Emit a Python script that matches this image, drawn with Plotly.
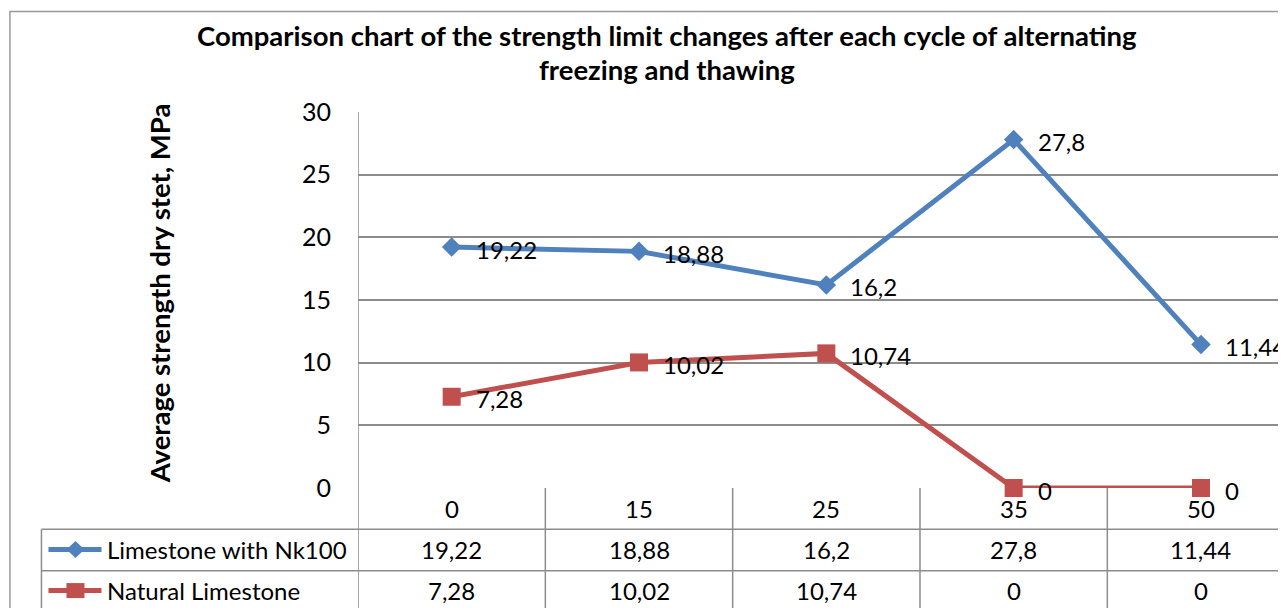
import plotly.graph_objects as go

# ---------------- data ----------------
cycles = ["0", "15", "25", "35", "50"]
series_names = ["Limestone with Nk100", "Natural Limestone"]
nk100 = [19.22, 18.88, 16.2, 27.8, 11.44]
natural = [7.28, 10.02, 10.74, 0, 0]
y_ticks = [0, 5, 10, 15, 20, 25, 30]
title_lines = ["Comparison chart of the strength limit changes after each cycle of alternating",
               "freezing and thawing"]
y_title = "Average strength dry stet, MPa"

# ---------------- geometry / style ----------------
OFF = 8                                   # page body margin
W, H = 1286 - OFF, 608 - OFF
PL, PR, PT, PB = 358.4, 1286, 112.3, 488.0   # plot area in page pixels
STEP = 187.25                                 # category spacing in pixels
FONT = "Lato"
BLUE, RED = "#4F81BD", "#C0504D"
GRID = "#8c8c8c"

def px(xp):   # page pixel x -> paper x
    return (xp - PL) / (PR - PL)

def py(yp):   # page pixel y -> paper y
    return (PB - yp) / (PB - PT)

def fmt(v):
    return f"{v:g}".replace(".", ",")

xs = list(range(len(cycles)))
x_max = (PR - PL) / STEP - 0.5

fig = go.Figure()
for vals, name, col, sym, size in [(nk100, series_names[0], BLUE, "diamond", 15),
                                    (natural, series_names[1], RED, "square", 18)]:
    fig.add_trace(go.Scatter(
        x=xs, y=vals, name=name, mode="lines+markers",
        line=dict(color=col, width=5),
        marker=dict(symbol=sym, size=size, color=col, line=dict(width=0)),
        cliponaxis=False, showlegend=False, hoverinfo="skip"))

TSIZE = 24
tfont = dict(family=FONT, size=TSIZE, color="black")
annotations = []
# data labels
for vals in (nk100, natural):
    for i, v in enumerate(vals):
        annotations.append(dict(x=i, y=v, xref="x", yref="y", text=fmt(v), showarrow=False,
                                font=tfont, xanchor="left", yanchor="middle",
                                xshift=22, yshift=-2))

shapes = []
line_style = dict(color=GRID, width=1.5)
# outer chart border
shapes.append(dict(type="rect", xref="paper", yref="paper", x0=px(10.5), x1=px(1400),
                   y0=py(700), y1=py(12), line=dict(color="#9a9a9a", width=1.5)))
# table horizontal lines
row_lines = [529.3, 570.6]
for yl in row_lines:
    shapes.append(dict(type="line", xref="paper", yref="paper", x0=px(42), x1=1.01,
                       y0=py(yl), y1=py(yl), line=line_style))
# legend cell left border
shapes.append(dict(type="line", xref="paper", yref="paper", x0=px(42), x1=px(42),
                   y0=py(row_lines[0]), y1=py(640), line=line_style))
# table vertical lines (category boundaries)
for i in range(len(cycles)):
    xb = i - 0.5
    shapes.append(dict(type="line", xref="x", yref="paper", x0=xb, x1=xb,
                       y0=py(640), y1=(0 if i > 0 else 1), line=line_style))
shapes.append(dict(type="line", xref="x", yref="paper", x0=len(cycles) - 0.5, x1=len(cycles) - 0.5,
                   y0=py(640), y1=0, line=line_style))

# legend keys inside the table
row_centers = [549.5, 590.5]
for rc, col, kind in [(row_centers[0], BLUE, "diamond"), (row_centers[1], RED, "square")]:
    shapes.append(dict(type="line", xref="paper", yref="paper", x0=px(49), x1=px(102),
                       y0=py(rc), y1=py(rc), line=dict(color=col, width=5)))
    if kind == "diamond":
        shapes.append(dict(type="path", xref="paper", yref="paper", xsizemode="pixel",
                           ysizemode="pixel", xanchor=px(76), yanchor=py(rc),
                           path="M -9 0 L 0 8.5 L 9 0 L 0 -8.5 Z",
                           fillcolor=col, line=dict(width=0)))
    else:
        shapes.append(dict(type="rect", xref="paper", yref="paper", xsizemode="pixel",
                           ysizemode="pixel", xanchor=px(76), yanchor=py(rc),
                           x0=-9, x1=9, y0=-7.5, y1=7.5, fillcolor=col, line=dict(width=0)))

# category row
for i, c in enumerate(cycles):
    annotations.append(dict(x=i, y=py(508), xref="x", yref="paper", text=c, showarrow=False,
                            font=tfont, xanchor="center", yanchor="middle"))
# value rows
for rc, vals, name in [(row_centers[0], nk100, series_names[0]),
                       (row_centers[1], natural, series_names[1])]:
    for i, v in enumerate(vals):
        annotations.append(dict(x=i, y=py(rc), xref="x", yref="paper", text=fmt(v),
                                showarrow=False, font=tfont, xanchor="center", yanchor="middle"))
    annotations.append(dict(x=px(106), y=py(rc), xref="paper", yref="paper", text=name,
                            showarrow=False, font=tfont, xanchor="left", yanchor="middle"))
# title
for yl, t in zip([36, 70], title_lines):
    annotations.append(dict(x=px(667), y=py(yl), xref="paper", yref="paper",
                            text=f"<b>{t}</b>", showarrow=False,
                            font=dict(family=FONT, size=27.5, color="black"),
                            xanchor="center", yanchor="middle"))
# y-axis title
annotations.append(dict(x=px(160), y=py(294), xref="paper", yref="paper",
                        text=f"<b>{y_title}</b>", textangle=-90, showarrow=False,
                        font=dict(family=FONT, size=27.5, color="black"),
                        xanchor="center", yanchor="middle"))

fig.update_layout(
    width=W, height=H,
    margin=dict(l=PL - OFF, r=0, t=PT - OFF, b=H - (PB - OFF), pad=0),
    paper_bgcolor="white", plot_bgcolor="white",
    xaxis=dict(range=[-0.5, x_max], showticklabels=False, showgrid=False, zeroline=False,
               showline=False, ticks=""),
    yaxis=dict(range=[0, 30], tickvals=y_ticks, showgrid=True, gridcolor=GRID, gridwidth=1.5,
               zeroline=False, showline=False, ticks="", ticklabelstandoff=26,
               tickfont=dict(family=FONT, size=25, color="black")),
    shapes=shapes, annotations=annotations,
)

fig.write_html("out.html")
